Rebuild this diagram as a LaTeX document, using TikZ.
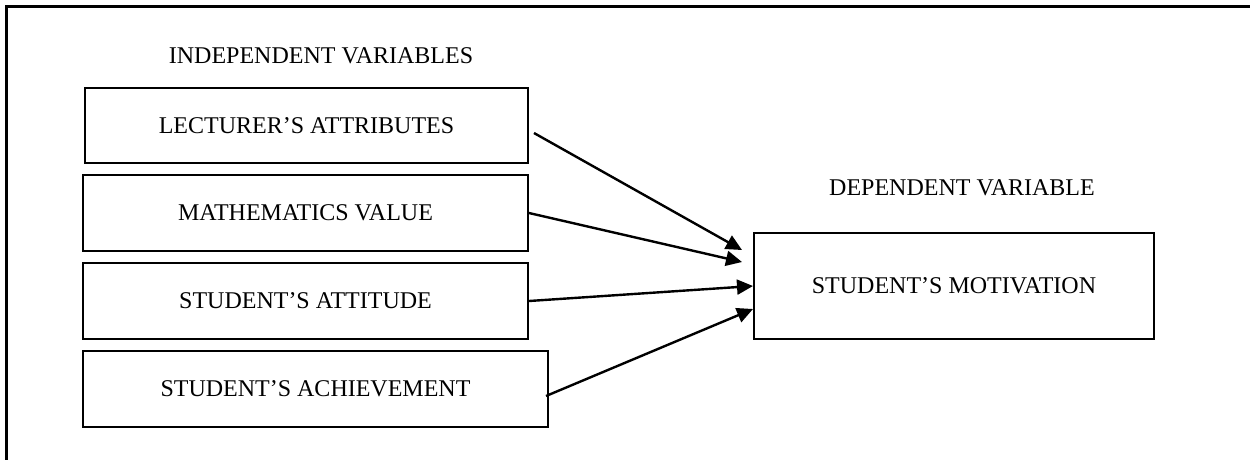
\documentclass[tikz,border=0pt]{standalone}
\usepackage{fontspec}
\setmainfont{Liberation Serif}
\usetikzlibrary{arrows.meta}
\tikzset{
  varbox/.style={draw, line width=2pt, rectangle, inner sep=0pt, font=\fontsize{24}{28}\selectfont},
  heading/.style={inner sep=0pt, font=\fontsize{24}{28}\selectfont},
  link/.style={line width=2.4pt, -{Triangle[length=16pt,width=15pt]}},
  frame/.style={line width=3pt}
}
\begin{document}
\begin{tikzpicture}[x=1pt,y=-1pt]
\useasboundingbox (0,0) rectangle (1250,459);
\clip (0,0) rectangle (1250,459);
\fill[white] (0,0) rectangle (1250,459);
\draw[frame] (6,480) -- (6,6.5) -- (1270,6.5);
\node[heading, anchor=base] (hi) at (321,63) {INDEPENDENT VARIABLES};
\node[heading, anchor=base] (hd) at (962,195) {DEPENDENT VARIABLE};
\node[varbox, minimum width=443pt, minimum height=75pt] (b1) at (306.5,125.5) {LECTURER’S ATTRIBUTES};
\node[varbox, minimum width=445pt, minimum height=76pt] (b2) at (305.5,213) {MATHEMATICS VALUE};
\node[varbox, minimum width=445pt, minimum height=76pt] (b3) at (305.5,301) {STUDENT’S ATTITUDE};
\node[varbox, minimum width=465pt, minimum height=76pt] (b4) at (315.5,389) {STUDENT’S ACHIEVEMENT};
\node[varbox, minimum width=400pt, minimum height=106pt] (m) at (954,286) {STUDENT’S MOTIVATION};
\draw[link] ([xshift=5pt,yshift=-7.5pt]b1.east) -- ([xshift=-11pt,yshift=36pt]m.west);
\draw[link] (b2.east) -- ([xshift=-11pt,yshift=24pt]m.west);
\draw[link] (b3.east) -- (m.west);
\draw[link] ([xshift=-3pt,yshift=-7pt]b4.east) -- ([yshift=-23pt]m.west);
\end{tikzpicture}
\end{document}
